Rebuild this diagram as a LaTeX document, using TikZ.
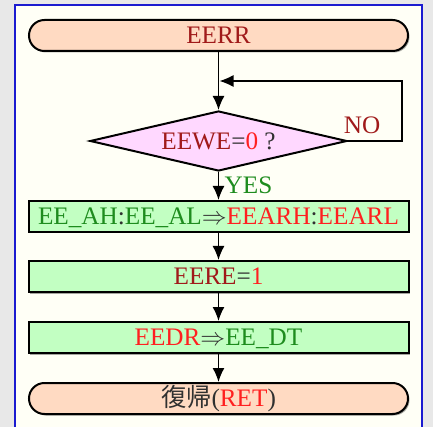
\documentclass[tikz,border=0pt]{standalone}
\usepackage{fontspec}
\setmainfont{Liberation Serif}
\newfontfamily\jpfont{Noto Sans CJK JP}
\usetikzlibrary{arrows.meta,shapes.geometric,shadows}

\definecolor{pagegrey}{HTML}{E8E8E8}
\definecolor{panel}{HTML}{FFFFF6}
\definecolor{frameblue}{HTML}{1A1AD0}
\definecolor{peach}{HTML}{FFDAC2}
\definecolor{lilac}{HTML}{FFD8FF}
\definecolor{mint}{HTML}{C2FFC2}
\definecolor{maroon}{HTML}{A01A1A}
\definecolor{hot}{HTML}{FF2020}
\definecolor{leaf}{HTML}{1E8C1E}
\definecolor{ink}{HTML}{303030}

\tikzset{
  boxtext/.style={inner sep=0pt, text height=16.8pt, text depth=0pt},
  softshadow/.style={drop shadow={shadow xshift=1.5pt, shadow yshift=-1.5pt, fill=black, opacity=0.35}},
  terminal/.style={boxtext, draw, line width=2pt, fill=peach,
    rounded corners=15.5pt, minimum width=379pt, minimum height=31pt, softshadow},
  process/.style={boxtext, draw, line width=2pt, fill=mint,
    minimum width=380pt, minimum height=31pt, softshadow},
  decision/.style={boxtext, draw, line width=2pt, fill=lilac, diamond,
    shape aspect=4.28, minimum width=257pt, minimum height=60pt},
  label/.style={boxtext},
  flow/.style={line width=1.5pt, -{Latex[length=14pt,width=12pt]}},
  backflow/.style={line width=1.2pt, -{Latex[length=14pt,width=12pt]}}
}

\begin{document}
\begin{tikzpicture}[x=1pt, y=-1pt, font=\fontsize{25.2}{27}\selectfont]
  \useasboundingbox (0,0) rectangle (433,427);
  % page and framed panel
  \fill[pagegrey] (0,0) rectangle (433,427);
  \fill[panel] (15,5) rectangle (422,427);
  \draw[frameblue, line width=1.3pt] (15,430) -- (15,5) -- (422,5) -- (422,430);

  % flowchart steps
  \node[terminal] (start) at (218.5,35.5) {\color{maroon}EERR};
  \node[decision] (test) at (218.5,141)
    {{\color{maroon}EEWE}{\color{ink}=}{\color{hot}0}{\color{ink}\ ?}};
  \node[process] (addr) at (218.5,216.5)
    {{\color{leaf}EE\_AH}{\color{ink}:}{\color{leaf}EE\_AL}{\color{ink}$\Rightarrow$}{\color{hot}EEARH}{\color{ink}:}{\color{hot}EEARL}};
  \node[process] (read) at (218.5,276.5)
    {{\color{maroon}EERE}{\color{ink}=}{\color{hot}1}};
  \node[process] (data) at (218.5,337.5)
    {{\color{hot}EEDR}{\color{ink}$\Rightarrow$}{\color{leaf}EE\_DT}};
  \node[terminal] (ret) at (218.5,398.5)
    {{\color{ink}\jpfont 復帰}{\color{ink}(}{\color{hot}RET}{\color{ink})}};

  % branch labels
  \node[label, text=maroon] (no) at (362,125) {NO};
  \node[label, text=leaf] (yes) at (248.5,185) {YES};

  % connectors
  \coordinate (loopin) at (219.5,81);
  \draw[flow] (start.south) -- (test.north);
  \draw[backflow] (test.east) -- ++(54,0) |- (loopin);
  \draw[flow] (test.south) -- (addr.north);
  \draw[flow] (addr.south) -- (read.north);
  \draw[flow] (read.south) -- (data.north);
  \draw[flow] (data.south) -- (ret.north);
\end{tikzpicture}
\end{document}
